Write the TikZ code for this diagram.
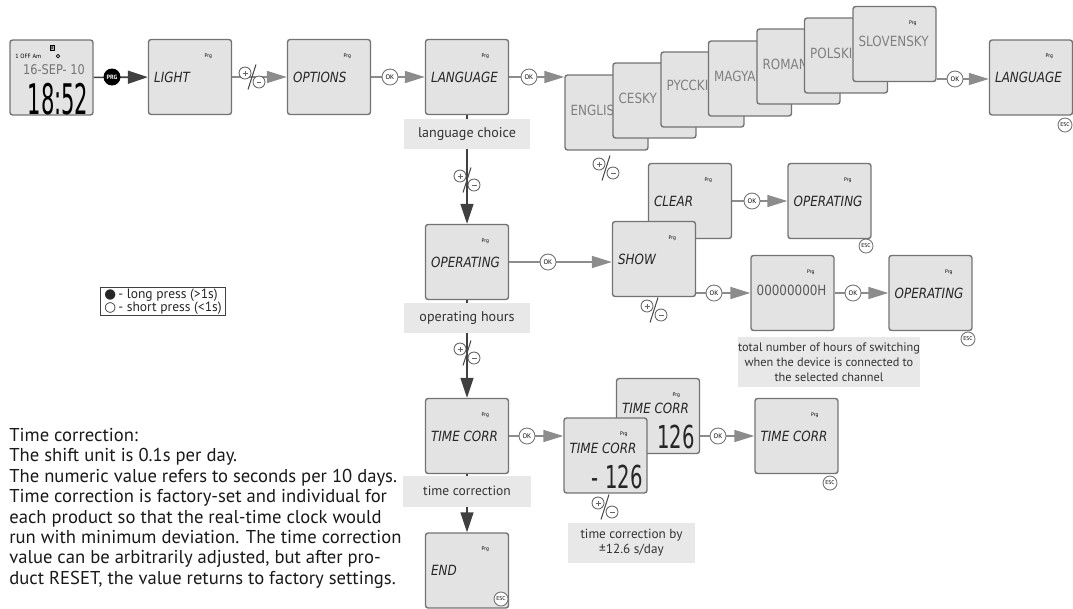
\documentclass[tikz,border=0pt]{standalone}
\usepackage{fontspec}
\setmainfont{PT Sans}
\newfontfamily\lcdfont[FakeStretch=0.85]{DejaVu Sans}
\newfontfamily\segfont[FakeStretch=0.62]{DejaVu Sans}
\newfontfamily\clockfont[FakeStretch=0.5]{DejaVu Sans}
\newfontfamily\symfont{DejaVu Sans}
\usetikzlibrary{arrows.meta,backgrounds}

\tikzset{
  lcd/.style={draw=black!55, fill=black!11, line width=0.8pt, rounded corners=1.5pt,
    minimum width=1.66cm, minimum height=1.5cm, inner sep=0pt},
  lcdtext/.style={font=\lcdfont\itshape\fontsize{8}{8}\selectfont, text=black!85, inner sep=0pt},
  langtext/.style={font=\lcdfont\fontsize{8}{8}\selectfont, text=black!50, inner sep=0pt, yshift=0.05cm},
  bigdigits/.style={font=\segfont\fontsize{18}{18}\selectfont, text=black!85, inner sep=0pt,
    text depth=0pt},
  prgflag/.style={font=\fontsize{3}{3}\selectfont, inner sep=0pt},
  okbtn/.style={circle, draw=black!55, fill=white, line width=0.5pt, minimum size=0.32cm,
    inner sep=0pt, font=\fontsize{3.8}{3.8}\selectfont},
  escbtn/.style={okbtn, minimum size=0.28cm, font=\fontsize{3.2}{3.2}\selectfont},
  prgbtn/.style={circle, fill=black, text=white, minimum size=0.34cm, inner sep=0pt,
    font=\bfseries\fontsize{3.5}{3.5}\selectfont},
  hint/.style={fill=black!9, inner sep=0pt, align=center, text=black!80,
    font=\fontsize{7.5}{8.6}\selectfont},
  garrow/.style={draw=black!45, line width=0.9pt, -{Triangle[length=0.4cm,width=0.24cm]}},
  darrow/.style={draw=black!75, line width=0.9pt, -{Triangle[length=0.4cm,width=0.26cm]}},
  plusminus/.style={minimum width=0.6cm, minimum height=0.56cm, inner sep=0pt,
    path picture={
      \draw[black!60, line width=0.5pt, fill=white]
        ([xshift=-0.14cm,yshift=0.08cm]path picture bounding box.center) circle (0.12cm)
        ([xshift=0.14cm,yshift=-0.1cm]path picture bounding box.center) circle (0.12cm);
      \draw[black!60, line width=0.4pt]
        ([xshift=-0.19cm,yshift=0.08cm]path picture bounding box.center) -- +(0.1cm,0)
        ([xshift=-0.14cm,yshift=0.03cm]path picture bounding box.center) -- +(0,0.1cm)
        ([xshift=0.09cm,yshift=-0.1cm]path picture bounding box.center) -- +(0.1cm,0);
      \draw[black!70, line width=0.6pt]
        ([xshift=-0.08cm,yshift=-0.25cm]path picture bounding box.center) -- +(0.16cm,0.5cm);
    }},
  legend/.style={draw=black!75, line width=0.5pt, inner xsep=2pt, inner ysep=0.5pt,
    align=left, font=\fontsize{7.7}{7.6}\selectfont, text=black!85},
  note/.style={inner sep=0pt, align=left, text=black!90, font=\fontsize{10.6}{11.6}\selectfont}
}

% display box: [text style]{name}{x,y}{text}
\newcommand{\lcd}[4][lcdtext]{%
  \node[lcd] (#2) at (#3) {};
  \node[prgflag] at ([xshift=-0.48cm,yshift=-0.34cm]#2.north east) {Prg};
  \node[#1, anchor=west] at ([xshift=0.12cm]#2.west) {#4};}

\begin{document}
\begin{tikzpicture}[x=0.02cm,y=-0.02cm]
\useasboundingbox (0,0) rectangle (1073,609);

% clock
\node[lcd] (clock) at (51.5,77.5) {};
\node[font=\fontsize{3.5}{3.5}\selectfont, anchor=west, inner sep=0pt] at (15,56) {1 OFF Am};
\draw[line width=0.4pt] (58,56) circle (0.035cm);
\node[draw, fill=black!30, inner sep=0.3pt, font=\fontsize{3}{3}\selectfont] at (52,48) {B};
\node[font=\lcdfont\fontsize{7.6}{7.6}\selectfont, text=black!55, inner sep=0pt] at (54,70) {16-SEP- 10};
\node[font=\clockfont\fontsize{24}{24}\selectfont, inner sep=0pt, text depth=0pt] at (58,99) {18:52};

% top row
\lcd{light}{190,77}{LIGHT}
\lcd{options}{329,77}{OPTIONS}
\lcd{language}{467,77}{LANGUAGE}
\lcd[langtext]{english}{606.5,112.5}{ENGLISH}
\lcd[langtext]{cesky}{654.5,100.5}{CESKY}
\lcd[langtext]{russian}{702.5,89.5}{PYCCKIJ}
\lcd[langtext]{magyar}{750,78.5}{MAGYAR}
\lcd[langtext]{romana}{798.5,66.5}{ROMANA}
\lcd[langtext]{polski}{846,55.5}{POLSKI}
\lcd[langtext]{slovensky}{894.5,44}{SLOVENSKY}
\lcd{languageB}{1031,77.5}{LANGUAGE}

% operating hours
\lcd{operating}{467,262}{OPERATING}
\lcd{clear}{690,201}{CLEAR}
\lcd{operatingA}{829.5,201}{OPERATING}
\lcd{show}{654,259}{SHOW}
\lcd[langtext, text=black!65]{hours}{792.5,293}{00000000H}
\lcd{operatingB}{930.5,293}{OPERATING}

% time correction
\lcd{timecorr}{467,436}{TIME CORR}
\lcd[lcdtext, yshift=0.16cm]{plusbox}{658,416}{TIME CORR}
\node[bigdigits, anchor=east] at (695,437) {126};
\lcd[lcdtext, yshift=0.14cm]{minusbox}{605.5,455.5}{TIME CORR}
\node[bigdigits, anchor=east] at (643,477) {- 126};
\lcd{timecorrB}{796.5,436}{TIME CORR}
\lcd{finish}{467,570.5}{END}

% buttons
\node[prgbtn] (prg) at (112,77) {PRG};
\node[okbtn] (ok1) at (390,77) {OK};
\node[okbtn] (ok2) at (529,77) {OK};
\node[okbtn] (ok3) at (955,79) {OK};
\node[okbtn] (ok4) at (548,262) {OK};
\node[okbtn] (ok5) at (752,201) {OK};
\node[okbtn] (ok6) at (714,293) {OK};
\node[okbtn] (ok7) at (853,293) {OK};
\node[okbtn] (ok8) at (527,436) {OK};
\node[okbtn] (ok9) at (718,436) {OK};
\node[escbtn] (esc1) at (1065,125) {ESC};
\node[escbtn] (esc2) at (866,246) {ESC};
\node[escbtn] (esc3) at (968,339) {ESC};
\node[escbtn] (esc4) at (830,483) {ESC};
\node[escbtn] (esc5) at (501,599) {ESC};
\node[plusminus] (pm1) at (252,77) {};
\node[plusminus] (pm2) at (606,168) {};
\node[plusminus] (pm3) at (467,180) {};
\node[plusminus] (pm4) at (654,310) {};
\node[plusminus] (pm5) at (467,353) {};
\node[plusminus] (pm6) at (605,507) {};

% captions
\node[hint, minimum width=2.52cm, minimum height=0.6cm, font=\fontsize{8}{8}\selectfont] (choice) at (467,134) {language choice};
\node[hint, minimum width=2.52cm, minimum height=0.6cm, font=\fontsize{8}{8}\selectfont] (ophours) at (467,318) {operating hours};
\node[hint, minimum width=2.56cm, minimum height=0.62cm, font=\fontsize{7.7}{8}\selectfont] (tcorr) at (467,491) {time correction};
\node[hint, minimum width=3.64cm, minimum height=1cm, font=\fontsize{7}{8.6}\selectfont] (switching) at (829,362)
  {total number of hours of switching\\when the device is connected to\\the selected channel};
\node[hint, minimum width=2.54cm, minimum height=0.8cm] (tcorrby) at (631.5,543)
  {time correction by\\±12.6 s/day};

\node[legend] (legend) at (163,301.5)
  {{\symfont ●}\,- long press (>1s)\\{\symfont ○}\,- short press (<1s)};

\node[note, anchor=north west] (notes) at (9,428)
  {Time correction:\\
   The shift unit is 0.1s per day.\\
   The numeric value refers to seconds per 10 days.\\
   Time correction is factory-set and individual for\\
   each product so that the real-time clock would\\
   run with minimum deviation. The time correction\\
   value can be arbitrarily adjusted, but after pro-\\
   duct RESET, the value returns to factory settings.};

% connectors
\begin{scope}[on background layer]
  \draw[darrow] (clock) -- (light);
  \draw[garrow] (light) -- (options);
  \draw[garrow] (options) -- (language);
  \draw[garrow] (language) -- (language -| english.west);
  \draw[garrow] (ok3 -| slovensky.east) -- (ok3 -| languageB.west);
  \draw[darrow] (language) -- (operating);
  \draw[garrow] (operating) -- (operating -| show.west);
  \draw[garrow] (clear) -- (operatingA);
  \draw[garrow] (ok6 -| show.east) -- (ok6 -| hours.west);
  \draw[garrow] (hours) -- (operatingB);
  \draw[darrow] (operating) -- (timecorr);
  \draw[garrow] (timecorr) -- (timecorr -| minusbox.west);
  \draw[garrow] (ok9 -| plusbox.east) -- (ok9 -| timecorrB.west);
  \draw[darrow] (timecorr) -- (finish);
\end{scope}
\end{tikzpicture}
\end{document}
